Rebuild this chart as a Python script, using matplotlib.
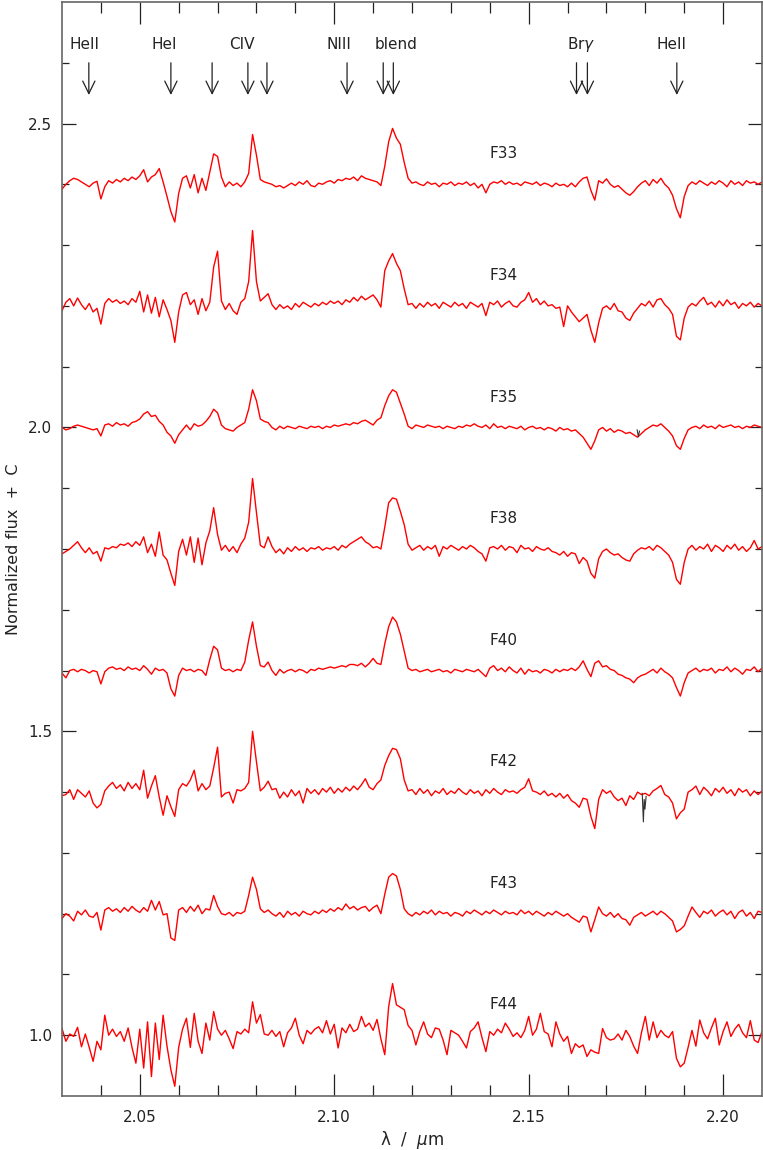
import matplotlib
matplotlib.use("Agg")
import matplotlib.pyplot as plt
import numpy as np

# wavelength grid in micron, 0.001 steps from 2.030 to 2.210
wave = np.round(np.arange(2.030, 2.2105, 0.001), 3)

names = ['F33', 'F34', 'F35', 'F38', 'F40', 'F42', 'F43', 'F44']
offsets = [2.4, 2.2, 2.0, 1.8, 1.6, 1.4, 1.2, 1.0]

# flux minus continuum, in units of 1e-3
f33 = [-8, 0, 6, 10, 8, 4, 0, -4, 2, 5,
       -24, -4, 6, 2, 8, 4, 10, 6, 12, 8,
       14, 24, 4, 12, 16, 26, 4, -20, -45, -62,
       -15, 10, 14, -6, 16, -14, 10, -10, 20, 50,
       46, 12, -4, 4, -2, 2, -4, 4, 18, 82,
       48, 8, 4, 2, 0, -4, -2, -6, -2, 2,
       -2, 4, 0, 6, -2, -4, 2, 0, 4, 6,
       2, 8, 6, 10, 8, 12, 6, 14, 10, 8,
       6, 4, -2, 30, 70, 92, 76, 66, 36, 10,
       2, 4, 0, -2, 4, 0, 2, -4, 2, 0,
       4, -2, 2, 0, 4, -2, 2, -6, 0, -14,
       0, 4, 2, 6, 0, 4, 0, 2, -2, 4,
       2, 0, 4, -2, 2, 0, -4, 2, -2, 0,
       -4, 2, -4, 4, 10, 12, -10, -26, 6, 2,
       9, 0, -5, -2, -8, -14, -18, -12, -4, 2,
       6, -2, 8, 2, 10, 0, -6, -18, -40, -55,
       -20, -2, 4, 0, 6, 2, -2, 4, 0, 6,
       2, -4, 6, 0, 4, -2, 6, 2, 4, 0,
       4]
f34 = [-8, 6, 12, 0, 13, 2, -6, 4, -10, -4,
       -30, 4, 12, 6, 10, 4, 8, 2, 12, 6,
       24, -10, 18, -12, 14, -18, 10, -6, -24, -60,
       -10, 18, 22, 2, 10, -14, 12, -8, 6, 64,
       90, 8, -6, 4, -8, -14, 6, 12, 40, 124,
       40, 8, 14, 20, 2, -6, 2, -4, 0, -6,
       4, -2, 6, 2, -2, 4, 0, 6, 2, 8,
       4, 8, 2, 10, 6, 14, 8, 16, 10, 14,
       18, 10, -2, 58, 74, 86, 70, 58, 28, 2,
       4, -4, 4, -2, 6, 0, 4, -4, 6, 2,
       -2, 6, 0, 4, -4, 6, 2, -2, 4, -16,
       6, 2, 8, -2, 4, 8, 0, -2, 6, 10,
       22, 6, 12, 2, 8, 0, 2, -4, -2, -34,
       0, -10, -18, -26, -20, -14, -40, -60, -28, -4,
       0, -6, 4, -8, -10, -20, -24, -12, -4, 4,
       0, 8, -2, 10, 12, 2, -4, -14, -50, -56,
       -20, -2, 4, 0, 8, 14, 2, 6, -2, 8,
       0, 10, 2, 6, -4, 4, 0, 6, -2, 4,
       0]
f35 = [0, -4, -2, 2, 4, 2, 0, -2, -4, -2,
       -14, 4, 6, 2, 8, 4, 6, 2, 8, 10,
       14, 22, 26, 18, 20, 10, 4, -8, -14, -26,
       -12, -4, 4, -4, 6, 2, 4, 10, 18, 30,
       24, 4, -2, -4, -6, 0, 4, 8, 30, 62,
       44, 14, 10, 8, 0, -4, 2, -2, 2, 0,
       -2, 2, 0, -2, 2, 0, 2, -2, 2, 0,
       4, 2, 4, 6, 4, 8, 6, 10, 12, 8,
       4, 12, 16, 36, 52, 62, 58, 40, 22, 2,
       -2, 4, 2, 0, 4, 2, 0, 2, -2, 2,
       0, -2, 2, 0, 4, 2, 6, 2, 0, 4,
       -2, 6, 0, 2, -2, 2, 0, -2, 2, -4,
       0, 2, -2, 0, -4, 0, -2, -6, 0, -4,
       -2, -6, -4, -10, -16, -26, -36, -22, -4, 0,
       -6, -2, -8, -4, -6, -10, -8, -12, -16, -10,
       -4, 0, 4, 2, 6, 0, -6, -14, -30, -36,
       -18, -4, 0, 2, -2, 4, 0, 2, -2, 4,
       0, 2, 4, 0, 2, -2, 2, 0, 4, 2,
       0]
f38 = [-8, -4, 0, 6, 12, 2, -6, 2, -8, -4,
       -20, 2, 0, 4, 2, 8, 6, 10, 4, 12,
       6, 20, -6, 8, -12, 28, -10, -18, -40, -60,
       -4, 16, -10, 20, -22, 18, -26, 10, 30, 68,
       24, -2, 6, -4, 4, -6, 8, 18, 44, 116,
       60, 6, 2, 20, 4, -6, 0, -8, 2, -4,
       4, -2, 2, -4, 2, 0, 4, -2, 2, 0,
       4, -2, 6, 2, 8, 12, 16, 20, 12, 8,
       2, 4, 0, 36, 76, 84, 82, 62, 40, 8,
       -2, 2, 6, -2, 4, 0, 6, -12, 4, 0,
       6, 2, -2, 4, 0, 6, 2, -4, -8, -20,
       2, 4, 0, 6, -2, 4, 2, -6, 6, 0,
       2, -4, 4, 0, -2, 2, -4, -6, -10, -4,
       -12, -6, -8, -24, -14, -20, -40, -48, -16, -4,
       0, -6, -10, -8, -14, -18, -20, -8, -2, 2,
       0, 4, -2, 6, 2, -4, -10, -22, -50, -58,
       -22, 0, 6, -2, 4, 0, 8, -4, 6, 2,
       -4, 6, 0, 8, -2, 4, -4, 2, 14, 0,
       4]
f40 = [-4, -12, 0, 2, -2, 2, 0, -4, 0, -2,
       -22, -2, 4, 6, 2, 4, 0, 6, 2, 4,
       0, 8, 2, -6, 4, 0, 2, -4, -30, -42,
       -8, 4, 0, 2, -2, 2, 0, -8, 18, 40,
       34, 4, 0, 2, -2, 2, 0, 14, 50, 80,
       40, 8, 6, 14, 0, -8, 2, -4, 0, 2,
       -2, 2, 0, -4, 2, 0, 4, 2, 4, 6,
       4, 6, 8, 6, 10, 10, 8, 12, 6, 12,
       20, 12, 10, 44, 72, 88, 80, 60, 32, 4,
       0, 2, -2, 0, 2, -2, 0, 2, -2, 0,
       -4, 2, 0, -2, 2, 0, -2, 2, -4, -10,
       4, 8, 0, 4, -2, 6, 0, -4, 4, -6,
       2, -2, 0, -4, 2, 0, -4, 2, -2, 2,
       0, 4, 0, 6, 16, 2, -10, 12, 16, 6,
       8, 2, 0, -6, -8, -12, -14, -20, -12, -8,
       -6, -2, 2, -4, 4, -2, -6, -12, -28, -42,
       -20, -4, 0, 4, -2, 2, 0, 4, -4, 2,
       0, 6, -2, 4, 0, -6, 2, 0, 6, -2,
       4]
f42 = [-6, -4, 4, -12, 4, -2, -8, 2, -18, -26,
       -20, 2, 10, 16, 6, 12, 2, 16, 6, 14,
       4, 36, -10, 10, 27, -8, -38, -6, -24, -40,
       4, 14, 10, 20, 36, 2, 14, 4, 10, 40,
       74, -8, -2, 0, -18, 4, 2, 6, 16, 100,
       50, 2, 8, 18, 4, 6, -10, 0, -8, 4,
       -6, 2, -18, 6, -2, 4, -4, 6, 0, 8,
       -2, 6, 0, 8, 2, 10, 4, 12, 22, 8,
       4, 14, 20, 44, 60, 72, 70, 55, 20, 2,
       4, -4, 6, -2, 4, -6, 2, -2, 6, -4,
       2, -2, 6, 0, -4, 4, -2, 2, -6, 4,
       -2, 6, 0, -4, 4, 0, 2, -2, 4, 8,
       22, 2, 0, -4, 2, -6, -2, -8, -2, -10,
       -4, -14, -18, -25, -10, -12, -40, -60, -12, 4,
       -2, 2, -8, -14, -10, -22, -6, -12, 0, -4,
       -2, -6, 2, 6, 11, -4, -8, -18, -44, -34,
       -28, 0, 4, 10, -4, 8, 2, -6, 6, 0,
       8, -2, 4, -6, 6, 0, 4, -6, 2, -4,
       2]
f43 = [-8, 0, -4, -12, 4, -2, 6, -4, -6, 2,
       -27, 6, 10, 4, 8, 2, 10, 4, 12, 6,
       2, 10, 4, 22, 6, 20, -2, 0, -40, -44,
       6, 10, 2, 12, 4, 14, 0, 8, 6, 30,
       12, 0, -2, 2, -4, 2, 0, 4, 30, 60,
       40, 8, 2, 6, 0, -4, 2, -6, 4, -2,
       2, -4, 4, 0, -2, 4, 0, 6, 2, 8,
       4, 10, 6, 16, 8, 12, 6, 10, 12, 4,
       10, 14, 0, 32, 60, 66, 62, 40, 8, 0,
       -4, 2, -2, 4, 0, 6, -2, 4, 0, 2,
       -4, 2, 0, -4, 4, 0, 6, 2, -2, 4,
       0, 6, 2, -2, 4, 0, 2, -2, 6, 0,
       4, -2, 4, 0, -4, 2, -2, 4, 0, -4,
       0, -6, -10, -14, -4, -6, -30, -10, 11, 0,
       -4, 2, -6, 0, -8, -10, -19, -6, -2, 2,
       -4, 0, 4, -2, 4, 0, -6, -12, -30, -26,
       -20, -4, 11, 2, -6, 4, 0, 6, -4, 2,
       6, -2, 4, -8, 2, 6, -4, 2, -8, 4,
       2]
f44 = [11, -10, 2, -2, 13, -19, 2, -20, -43, -10,
       -24, 33, 0, 10, -2, 6, -10, 12, -20, -46,
       10, -54, 22, -68, 20, -40, 33, -18, -57, -84,
       -20, 10, 28, -20, 36, -10, -30, 20, -8, 39,
       10, 0, 8, -6, -22, 6, 2, 10, 4, 55,
       20, 34, 2, 0, 8, -2, 6, -19, 4, 12,
       28, 0, -14, 8, 2, 10, 14, 4, 24, 2,
       18, -21, 12, 4, 18, 6, 10, 31, 14, 20,
       8, 26, -6, -32, 47, 85, 50, 46, 42, 16,
       8, -16, 6, 22, 2, -4, 12, 10, -8, -32,
       8, 4, 0, -10, -21, 6, 12, 22, -4, -27,
       6, 0, 10, 4, 20, 10, -2, 4, -4, 8,
       31, 0, 10, 36, 6, 2, -19, 22, 2, -10,
       -2, -30, -14, -20, -16, -35, -24, -28, -30, 11,
       -4, -8, -6, 2, -8, 8, -2, -18, -30, 4,
       31, -8, 22, -4, 8, 0, -4, 6, -38, -52,
       -46, -20, 8, -18, 25, 4, -6, 12, 28, -16,
       6, 22, -2, 10, 18, 4, -4, 24, -8, -12,
       6]
spectra = [f33, f34, f35, f38, f40, f42, f43, f44]

# small black artefacts drawn under F35 and F42
glitch35_wave = [2.1779, 2.1782, 2.1785]
glitch35_flux = [1.996, 1.985, 1.994]
glitch42_wave = [2.1792, 2.1795, 2.1797, 2.1799, 2.1802]
glitch42_flux = [1.398, 1.351, 1.388, 1.372, 1.393]

# line identifications at the top
line_labels = ['HeII', 'HeI', 'CIV', 'NIII', 'blend', r'Br$\gamma$', 'HeII']
label_wave = [2.0359, 2.0562, 2.0762, 2.1013, 2.1159, 2.1636, 2.1867]
arrow_wave = [2.0369, 2.0580, 2.0686, 2.0778, 2.0827, 2.1033,
              2.1126, 2.1152, 2.1623, 2.1651, 2.1881]

fig = plt.figure(figsize=(7.63, 11.5), dpi=100)
ax = fig.add_axes([62 / 763, 1 - 1096 / 1150, 700 / 763, 1094 / 1150])

for name, off, dev in zip(names, offsets, spectra):
    ax.plot(wave, off + np.array(dev) / 1000.0, color='#ff0000', lw=1.0)
    ax.text(2.14, off + 0.05, name, fontsize=11, color='#222222',
            ha='left', va='center')

ax.plot(glitch35_wave, glitch35_flux, color='#333333', lw=0.8)
ax.plot(glitch42_wave, glitch42_flux, color='#333333', lw=0.8)

for lab, x in zip(line_labels, label_wave):
    ax.text(x, 2.630, lab, fontsize=11, color='#222222', ha='center', va='center')
for x in arrow_wave:
    ax.annotate('', xy=(x, 2.547), xytext=(x, 2.600),
                arrowprops=dict(arrowstyle='->,head_length=0.45,head_width=0.22',
                                color='#222222', lw=0.9, mutation_scale=20,
                                shrinkA=0, shrinkB=0))

ax.set_xlim(2.03, 2.21)
ax.set_ylim(0.9, 2.7)
ax.set_xticks([2.05, 2.10, 2.15, 2.20])
ax.set_xticklabels(['2.05', '2.10', '2.15', '2.20'])
ax.set_xticks(np.arange(2.04, 2.21, 0.01), minor=True)
ax.set_yticks([1.0, 1.5, 2.0, 2.5])
ax.set_yticklabels(['1.0', '1.5', '2.0', '2.5'])
ax.set_yticks(np.arange(1.0, 2.65, 0.1), minor=True)

ax.tick_params(axis='both', which='both', direction='in', top=True, right=True,
               colors='#222222', labelsize=11, width=0.9)
ax.tick_params(axis='x', which='major', length=16, pad=10)
ax.tick_params(axis='x', which='minor', length=8)
ax.tick_params(axis='y', which='major', length=10, pad=7)
ax.tick_params(axis='y', which='minor', length=5)
for sp in ax.spines.values():
    sp.set_color('#666666')
    sp.set_linewidth(1.2)

ax.set_xlabel(r'λ  /  $\mu$m', fontsize=12, color='#222222', labelpad=3)
ax.set_ylabel('Normalized flux  +  C', fontsize=11.5, color='#222222', labelpad=5)

fig.savefig('out.png', dpi=100)
